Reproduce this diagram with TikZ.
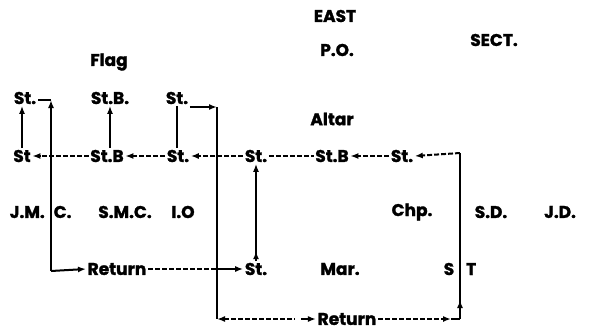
\documentclass[tikz,border=0pt]{standalone}
\usepackage{fontspec}
\setmainfont{Poppins}[BoldFeatures={FakeBold=1.5}]
\usetikzlibrary{arrows.meta}
\tikzset{
  lbl/.style={font=\fontsize{17}{19}\selectfont\bfseries, inner sep=1.5pt},
  vline/.style={line width=2.4pt},
  hline/.style={line width=2pt},
  dline/.style={line width=2pt, dash pattern=on 5pt off 2pt},
  >={Latex[length=8pt,width=6pt]}
}
\begin{document}
\begin{tikzpicture}[x=1pt,y=-1pt]
\useasboundingbox (0,0) rectangle (589,333);
% titles
\node[lbl] (east) at (335,16) {EAST};
\node[lbl] (po) at (337,50) {P.O.};
\node[lbl] (sect) at (494,40) {SECT.};
\node[lbl] (flag) at (109,62) {Flag};
\node[lbl] (altar) at (332,119) {Altar};
% row 1
\node[lbl] (r1a) at (25,98) {St.};
\node[lbl] (r1b) at (110,98) {St.B.};
\node[lbl] (r1c) at (177,98) {St.};
% row 2
\node[lbl] (r2a) at (22,156) {St};
\node[lbl] (r2b) at (107,156) {St.B};
\node[lbl] (r2c) at (178,156) {St.};
\node[lbl] (r2d) at (256,156) {St.};
\node[lbl] (r2e) at (332,156) {St.B};
\node[lbl] (r2f) at (402,156) {St.};
% row 3
\node[lbl,anchor=west] (jmc) at (8,212) {J.M.\kern9pt C.};
\node[lbl] (smc) at (125,212) {S.M.C.};
\node[lbl] (io) at (183,212) {I.O};
\node[lbl] (chp) at (412,212) {Chp.};
\node[lbl] (sd) at (491,212) {S.D.};
\node[lbl] (jd) at (560,212) {J.D.};
% row 4
\node[lbl] (ret1) at (117,269) {Return};
\node[lbl] (st4) at (256,269) {St.};
\node[lbl] (mar) at (340,269) {Mar.};
\node[lbl] (st) at (460,269) {S\kern12pt T};
% row 5
\node[lbl] (ret2) at (347,319) {Return};
% corner coordinates
\coordinate (atop) at (51,100);
\coordinate (abot) at (51,271);
\coordinate (btop) at (217,107);
\coordinate (bbot) at (217,319);
\coordinate (rtop) at (460,153);
\coordinate (rbot) at (460,319);
\coordinate (g1) at (295,319);
\coordinate (g2) at (301,319);
\coordinate (g3) at (451,319);
% line A
\draw[vline,->] (abot) -- (atop);
\draw[hline] (atop) -- (r1a.east |- atop);
\draw[hline,->] (abot) -- (ret1.west);
% left short line
\draw[vline,->] (r2a.north) -- (r2a.north |- r1a.south);
% St.B line
\draw[vline,->] (r1b.south |- r2b.north) -- (r1b.south);
% St. line
\draw[vline] (r1c.south) -- (r1c.south |- r2c.north);
\draw[hline,->] (r1c.east |- btop) -- (btop);
% line B
\draw[vline] (btop) -- (bbot);
% row 2
\draw[dline,->] (r2b.west) -- (r2a.east);
\draw[dline,->] (r2c.west) -- (r2b.east);
\draw[dline,->] (r2d.west) -- (r2c.east);
\draw[dline] (r2d.east) -- (r2e.west);
\draw[dline,->] (r2f.west) -- (r2e.east);
\draw[dline,->] (rtop) -- (r2f.east);
% line C
\draw[vline,->] (st4.north) -- (r2d.south);
\draw[vline,->] (st4.north) -- ++(0,-10);
% row 4
\draw[dline] (ret1.east) -- (ret1.east -| bbot);
\draw[hline,->] (st4.west -| bbot) -- (st4.west);
% right line
\draw[vline] (rbot) -- (rtop);
\draw[vline,->] (rbot) -- ++(0,-19);
% row 5
\draw[dline,<-] (bbot) -- (g1);
\draw[hline,->] (g2) -- (ret2.west);
\draw[dline,->] (ret2.east) -- (g3);
\draw[hline] (g3) -- (rbot);
\end{tikzpicture}
\end{document}
